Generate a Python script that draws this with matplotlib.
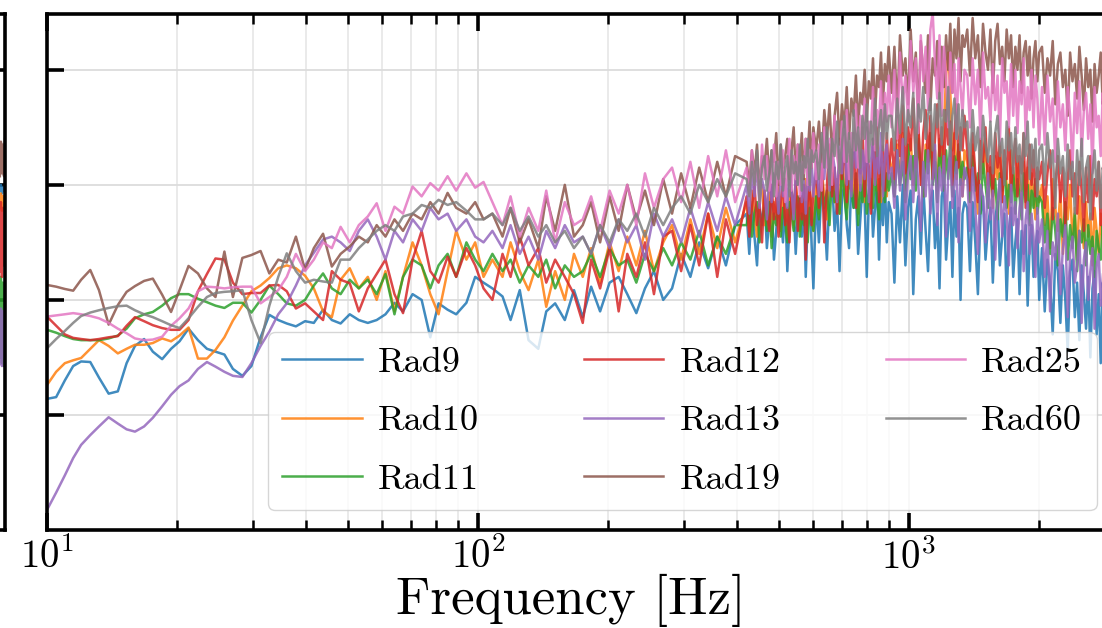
#!/usr/bin/env python3
"""
Radiator PSD overlay — spectra of the eight radiator channels on a log
frequency axis, shared level axis with the neighbouring panel.
"""

import matplotlib
matplotlib.use('Agg')
import matplotlib.pyplot as plt
from matplotlib.ticker import NullFormatter

plt.rcParams['font.family'] = 'serif'
plt.rcParams['font.serif'] = ['cmr10']
plt.rcParams['mathtext.fontset'] = 'cm'
plt.rcParams['axes.formatter.use_mathtext'] = True

# ════════════════════════════════════════════════════════════════════════
# Spectra (level in dB, arbitrary reference)
# ════════════════════════════════════════════════════════════════════════

freq = [
    10, 10.5, 11, 11.5, 12, 12.6, 13.2, 13.9, 14.6, 15.3,
    16, 16.8, 17.6, 18.5, 19.4, 20.3, 21.3, 22.4, 23.5, 24.6,
    25.8, 27, 28.4, 29.8, 31.3, 32.8, 34.4, 36, 37.8, 39.7,
    41.6, 43.7, 45.8, 48, 50.4, 52.9, 55.5, 58.2, 61, 64,
    67, 70.5, 74, 77.5, 81, 85, 89, 94, 98.5, 103,
    108, 114, 119, 125, 131, 138, 144, 151, 159, 167,
    175, 183, 192, 202, 212, 222, 233, 244, 256, 269,
    282, 296, 311, 326, 342, 359, 376, 395,
    # fine bins above 400 Hz
    420, 426, 432, 438, 444, 450, 456, 462, 468, 474, 480, 486, 492, 498, 504, 510,
    516, 522, 528, 534, 540, 546, 552, 558, 564, 570, 576, 582, 588, 594, 600,
    609, 618, 627, 636, 645, 654, 663, 672, 681, 690, 699, 708, 717, 726, 735, 744,
    753, 762, 771, 780, 789, 798, 807, 816, 825, 834, 843, 852, 861, 870, 879, 888, 897,
    911, 925, 939, 953, 967, 981, 995, 1009, 1023, 1037, 1051, 1065, 1079, 1093, 1107, 1121,
    1135, 1149, 1163, 1177, 1191, 1205, 1219, 1233, 1247, 1261, 1275, 1289, 1303, 1317, 1331, 1345,
    1365, 1385, 1405, 1425, 1445, 1465, 1485, 1505, 1525, 1545, 1565, 1585, 1605, 1625, 1645, 1665,
    1685, 1705, 1725, 1745, 1765, 1785, 1805, 1825, 1845, 1865, 1885, 1905, 1925, 1945, 1965, 1985, 2005,
    2035, 2065, 2095, 2125, 2155, 2185, 2215, 2245, 2275, 2305, 2335, 2365, 2395, 2425, 2455, 2485,
    2515, 2545, 2575, 2605, 2635, 2665, 2695, 2725, 2755, 2785, 2815, 2845, 2875, 2905, 2935,
]

rad9 = [
    22.8, 23.1, 26.0, 28.5, 29.3, 29.2, 26.5, 23.7, 24.1, 29.0,
    32.0, 33.2, 31.0, 29.7, 31.5, 32.8, 35.0, 33.0, 31.5, 31.0,
    30.5, 28.0, 26.8, 28.5, 33.5, 37.4, 36.5, 35.9, 35.4, 36.3,
    36.0, 38.3, 36.5, 35.9, 37.5, 36.5, 36.0, 36.5, 37.5, 39.5,
    38.0, 41.0, 40.0, 33.5, 39.4, 38.3, 37.5, 39.5, 44.0, 43.0,
    42.0, 40.6, 36.5, 41.7, 33.0, 31.5, 38.0, 39.4, 36.5, 41.7,
    37.0, 42.3, 38.0, 43.0, 44.0, 41.0, 37.7, 42.0, 45.0, 40.0,
    42.0, 48.0, 44.0, 50.0, 45.5, 51.0, 46.0, 53.0,
    55, 48, 57, 51, 46, 56, 53, 58, 49, 54, 57, 47, 52, 58, 55, 50,
    57, 45, 53, 59, 56, 48, 55, 58, 51, 57, 44, 54, 59, 50, 42,
    58, 50, 60, 55, 47, 59, 61, 52, 57, 45, 58, 60, 53, 49, 61, 56,
    59, 48, 54, 60, 57, 44, 58, 61, 51, 56, 60, 47, 59, 53, 61, 50, 57,
    55, 43, 58, 50, 60, 46, 56, 59, 41, 54, 58, 48, 60, 52, 45, 57,
    59, 49, 55, 42, 58, 60, 47, 53, 57, 44, 59, 51, 56, 40, 55, 57,
    56, 45, 57, 50, 41, 55, 58, 47, 53, 56, 43, 54, 57, 46, 51, 55,
    40, 52, 56, 44, 50, 54, 41, 52, 48, 53, 39, 50, 53, 44, 49, 52, 40,
    49, 38, 47, 43, 34, 48, 45, 36, 46, 40, 31, 45, 47, 37, 43, 33,
    46, 41, 35, 44, 30, 42, 45, 34, 41, 29, 43, 38, 32, 44, 36,
]

rad10 = [
    25.2, 27.5, 29.0, 29.5, 29.9, 31.5, 33.0, 32.0, 30.7, 31.5,
    32.2, 32.2, 32.5, 33.3, 32.8, 33.8, 35.2, 29.8, 29.8, 31.3,
    33.5, 36.4, 39.0, 41.5, 42.5, 43.8, 45.5, 46.0, 45.5, 44.2,
    42.0, 38.0, 37.0, 43.5, 45.5, 42.0, 44.0, 40.0, 45.0, 38.0,
    44.0, 50.0, 46.0, 41.0, 37.5, 45.0, 52.0, 47.0, 50.0, 44.0,
    47.0, 44.0, 50.0, 45.0, 41.7, 47.0, 38.8, 45.0, 40.0, 48.0,
    44.0, 49.0, 43.0, 50.0, 45.0, 51.0, 46.0, 52.0, 45.0, 50.0,
    53.0, 47.0, 54.0, 48.0, 55.0, 49.0, 56.0, 50.0,
    57, 52, 59, 55, 51, 58, 60, 53, 56, 59, 51, 57, 54, 60, 52, 58,
    55, 51, 59, 56, 53, 60, 57, 52, 58, 55, 61, 53, 59, 56, 52,
    60, 55, 63, 58, 54, 62, 65, 57, 61, 55, 64, 59, 56, 63, 66, 58,
    61, 55, 64, 60, 57, 65, 62, 56, 63, 66, 59, 61, 57, 64, 62, 58, 65,
    63, 58, 67, 61, 69, 59, 65, 68, 60, 66, 70, 62, 58, 67, 64, 69,
    61, 66, 59, 68, 63, 70, 79, 83, 76, 66, 69, 61, 67, 64, 58, 66,
    64, 57, 67, 60, 55, 66, 62, 68, 58, 63, 56, 65, 61, 67, 57, 64,
    60, 55, 66, 62, 58, 65, 61, 56, 64, 59, 63, 55, 62, 58, 54, 61, 57,
    60, 53, 58, 49, 61, 56, 52, 59, 48, 57, 54, 60, 50, 56, 47, 58,
    53, 49, 57, 51, 55, 46, 56, 52, 48, 55, 50, 45, 54, 49, 52,
]

rad11 = [
    34.8, 34.3, 33.7, 33.2, 33.0, 33.0, 33.0, 33.3, 33.8, 35.0,
    36.8, 37.5, 37.9, 39.0, 40.3, 41.0, 41.0, 40.2, 39.6, 39.0,
    38.6, 39.5, 39.5, 37.8, 40.0, 42.5, 41.0, 39.4, 39.0, 40.0,
    42.5, 44.6, 42.0, 41.0, 43.5, 42.0, 43.5, 41.0, 44.5, 37.5,
    44.0, 47.0, 46.0, 42.0, 46.0, 48.0, 44.0, 50.0, 47.0, 45.0,
    48.0, 45.0, 47.0, 43.0, 46.0, 44.0, 47.0, 42.0, 46.0, 44.0,
    45.0, 48.0, 44.0, 49.0, 46.0, 47.0, 43.0, 48.0, 45.0, 49.0,
    46.0, 50.0, 47.0, 52.0, 46.0, 51.0, 48.0, 53.0,
    53, 56, 51, 55, 57, 50, 54, 56, 52, 57, 49, 55, 53, 57, 51, 56,
    54, 50, 57, 55, 52, 56, 58, 51, 55, 53, 57, 50, 56, 54, 52,
    58, 54, 61, 56, 59, 53, 62, 57, 60, 55, 63, 58, 54, 61, 59, 56,
    62, 53, 60, 57, 63, 55, 59, 61, 56, 62, 58, 54, 63, 60, 57, 62, 59,
    62, 58, 66, 60, 64, 57, 67, 61, 65, 59, 68, 63, 58, 66, 62, 69,
    60, 64, 57, 67, 63, 59, 66, 61, 68, 58, 65, 62, 67, 60, 64, 61,
    63, 57, 65, 59, 62, 55, 64, 60, 56, 63, 58, 61, 54, 62, 59, 64,
    56, 60, 57, 63, 55, 61, 58, 54, 62, 57, 60, 53, 59, 56, 61, 55, 58,
    57, 50, 55, 48, 56, 52, 46, 54, 51, 57, 47, 53, 49, 55, 45, 52,
    50, 54, 46, 53, 48, 51, 44, 52, 49, 47, 53, 45, 50, 48, 51,
]

rad12 = [
    37.1, 35.5, 34.0, 33.4, 33.2, 33.0, 33.2, 33.5, 33.7, 35.5,
    37.0, 36.3, 35.6, 35.1, 34.8, 34.8, 36.5, 41.5, 44.5, 47.2,
    47.0, 43.0, 41.0, 41.2, 41.2, 42.5, 42.6, 41.5, 38.5, 39.4,
    38.0, 36.5, 45.0, 43.5, 42.9, 38.0, 42.0, 44.5, 47.0, 41.0,
    37.7, 47.0, 52.0, 45.0, 43.0, 47.5, 44.0, 49.0, 46.0, 42.0,
    40.0, 48.0, 44.0, 51.0, 46.0, 49.0, 43.0, 47.0, 44.0, 41.0,
    36.0, 47.0, 42.0, 49.0, 38.0, 48.0, 44.0, 50.0, 41.0, 51.0,
    52.0, 45.0, 53.0, 46.0, 55.0, 44.0, 54.0, 48.0,
    58, 51, 56, 60, 53, 57, 50, 59, 55, 52, 60, 54, 58, 51, 57, 61,
    53, 56, 50, 59, 55, 61, 52, 58, 54, 60, 47, 57, 61, 53, 59,
    62, 56, 65, 50, 60, 67, 58, 63, 55, 66, 61, 68, 57, 64, 59, 69,
    56, 65, 62, 70, 58, 66, 63, 55, 68, 61, 70, 57, 64, 67, 59, 69, 62,
    68, 61, 72, 65, 74, 62, 70, 66, 75, 63, 71, 60, 69, 73, 64, 72,
    61, 68, 74, 65, 70, 62, 73, 67, 71, 60, 69, 74, 63, 70, 66, 72,
    66, 59, 69, 62, 57, 68, 64, 70, 60, 65, 58, 69, 63, 67, 57, 66,
    61, 70, 59, 64, 68, 58, 65, 62, 69, 56, 64, 67, 60, 66, 58, 63, 61,
    64, 56, 62, 66, 54, 60, 65, 57, 63, 53, 61, 66, 58, 62, 55, 64,
    59, 52, 63, 57, 65, 54, 61, 58, 64, 53, 60, 62, 55, 63, 57,
]

rad13 = [
    3.5, 6.5, 9.5, 12.5, 14.8, 16.5, 18.0, 19.6, 18.5, 17.5,
    17.1, 18.0, 19.5, 21.5, 23.5, 25.0, 26.0, 28.0, 29.2, 28.4,
    27.5, 26.8, 26.6, 29.0, 32.0, 34.5, 37.5, 39.4, 42.5, 46.0,
    48.2, 50.5, 51.0, 50.0, 48.5, 52.0, 54.0, 51.0, 47.0, 52.0,
    50.0, 54.0, 52.0, 56.0, 54.0, 55.0, 52.0, 54.0, 51.0, 50.0,
    52.0, 49.0, 53.0, 48.0, 51.0, 47.0, 52.0, 49.0, 53.0, 50.0,
    51.0, 48.0, 53.0, 49.0, 54.0, 50.0, 53.0, 47.0, 55.0, 51.0,
    54.0, 50.0, 56.0, 51.0, 57.0, 52.0, 58.0, 53.0,
    60, 55, 62, 58, 64, 56, 61, 59, 54, 63, 57, 62, 60, 55, 64, 58,
    61, 56, 63, 59, 54, 62, 60, 65, 57, 61, 55, 63, 59, 64, 58,
    64, 58, 67, 61, 69, 59, 66, 63, 57, 68, 62, 70, 60, 65, 58, 69,
    63, 67, 59, 66, 61, 70, 57, 64, 68, 60, 66, 62, 69, 58, 65, 67, 61,
    63, 56, 66, 59, 68, 54, 62, 65, 57, 67, 60, 52, 64, 58, 66, 55,
    61, 67, 53, 63, 59, 65, 51, 62, 66, 56, 60, 64, 50, 61, 58, 63,
    61, 52, 63, 56, 48, 60, 58, 50, 62, 54, 59, 47, 57, 61, 51, 58,
    55, 46, 60, 53, 57, 49, 56, 59, 45, 54, 57, 48, 55, 51, 44, 56, 50,
    54, 44, 52, 38, 50, 47, 55, 41, 49, 53, 37, 48, 51, 43, 46, 52,
    36, 47, 50, 40, 45, 49, 35, 46, 48, 39, 44, 47, 34, 45, 42,
]

rad19 = [
    42.6, 42.3, 41.9, 41.6, 43.5, 45.2, 41.7, 35.7, 39.1, 41.4,
    42.4, 43.3, 43.7, 40.9, 37.9, 41.7, 45.9, 44.6, 42.0, 40.5,
    48.4, 40.5, 47.3, 47.8, 48.5, 44.6, 47.0, 46.5, 51.0, 45.2,
    49.0, 51.5, 45.8, 48.0, 49.3, 51.0, 50.0, 53.0, 51.0, 54.0,
    52.0, 55.0, 54.0, 57.0, 55.0, 58.6, 56.0, 55.0, 57.0, 54.0,
    55.0, 51.0, 56.0, 50.0, 54.0, 49.0, 58.0, 52.0, 60.0, 51.0,
    53.0, 57.0, 50.0, 58.0, 52.0, 60.0, 54.0, 59.0, 53.0, 61.0,
    55.0, 62.0, 56.0, 63.0, 57.0, 64.0, 58.0, 65.0,
    64, 60, 66, 62, 67, 59, 65, 63, 68, 61, 66, 64, 69, 60, 67, 63,
    65, 68, 61, 66, 70, 62, 67, 64, 69, 61, 68, 65, 71, 63, 70,
    66, 71, 64, 73, 68, 74, 65, 72, 76, 67, 74, 70, 77, 68, 75, 72,
    79, 70, 76, 74, 80, 71, 78, 75, 82, 72, 79, 77, 83, 74, 81, 78, 84,
    76, 84, 73, 86, 79, 82, 74, 87, 78, 83, 72, 85, 80, 76, 86, 73,
    82, 79, 85, 75, 84, 77, 86, 80, 88, 76, 87, 82, 89, 78, 86, 84,
    87, 79, 89, 82, 86, 77, 88, 83, 80, 87, 76, 85, 88, 81, 84, 78,
    87, 82, 86, 77, 84, 80, 86, 76, 83, 85, 79, 84, 75, 82, 85, 78, 83,
    84, 76, 82, 79, 85, 74, 81, 83, 77, 80, 72, 83, 78, 81, 75, 84,
    79, 73, 82, 77, 80, 71, 81, 76, 79, 83, 74, 80, 77, 72, 79,
]

rad25 = [
    37.1, 37.3, 37.5, 37.7, 37.5, 37.2, 36.8, 36.0, 35.0, 34.2,
    33.3, 33.0, 33.1, 33.6, 35.5, 36.8, 38.5, 41.5, 42.3, 42.2,
    42.0, 42.2, 42.3, 42.3, 39.4, 40.5, 41.7, 44.0, 48.0, 45.0,
    47.0, 50.0, 49.0, 52.7, 50.0, 53.0, 54.5, 56.8, 52.0, 56.2,
    55.0, 59.7, 58.0, 60.3, 59.0, 61.5, 59.0, 62.0, 59.5, 60.5,
    57.0, 53.0, 58.0, 51.0, 56.0, 52.0, 59.0, 50.0, 57.0, 53.0,
    54.0, 58.0, 52.0, 59.0, 55.0, 60.0, 53.0, 62.0, 56.0, 61.0,
    63.0, 57.0, 64.0, 56.0, 65.0, 58.0, 66.0, 57.0,
    63, 58, 66, 60, 64, 57, 67, 61, 65, 59, 62, 67, 58, 64, 60, 66,
    57, 63, 68, 59, 65, 61, 67, 58, 64, 62, 68, 60, 66, 63, 69,
    61, 67, 59, 70, 63, 68, 60, 72, 65, 62, 71, 64, 73, 61, 69, 66,
    74, 63, 72, 68, 75, 64, 71, 69, 77, 66, 73, 70, 78, 67, 76, 71, 79,
    70, 80, 68, 83, 74, 79, 71, 85, 76, 82, 69, 86, 78, 84, 73, 87,
    90, 81, 75, 86, 72, 84, 79, 70, 83, 76, 81, 68, 82, 77, 72, 80,
    79, 70, 82, 74, 80, 68, 83, 75, 77, 71, 81, 73, 79, 67, 82, 76,
    78, 70, 81, 72, 80, 69, 78, 74, 82, 68, 77, 73, 80, 70, 79, 75, 67,
    77, 67, 79, 71, 75, 64, 78, 70, 74, 66, 77, 72, 63, 76, 69, 78,
    65, 73, 76, 68, 74, 62, 77, 70, 72, 65, 76, 67, 73, 64, 75,
]

rad60 = [
    31.6, 33.2, 34.6, 36.0, 37.2, 37.8, 38.2, 38.6, 38.9, 39.0,
    38.2, 37.5, 37.0, 36.3, 35.6, 35.1, 36.8, 38.8, 40.5, 41.2,
    41.4, 41.5, 41.7, 36.5, 32.5, 39.0, 44.0, 48.1, 45.0, 43.0,
    43.5, 43.2, 43.0, 47.0, 47.0, 49.0, 50.5, 52.0, 53.0, 52.0,
    54.5, 55.0, 56.5, 56.0, 57.4, 56.5, 57.0, 55.5, 54.0, 54.0,
    55.0, 53.0, 56.0, 52.0, 54.5, 51.0, 53.0, 50.0, 52.0, 49.0,
    51.0, 48.0, 53.0, 50.0, 54.0, 52.0, 55.0, 51.0, 56.0, 53.0,
    56.0, 58.0, 55.0, 60.0, 57.0, 61.0, 58.0, 62.0,
    61, 58, 64, 60, 66, 57, 63, 65, 59, 62, 66, 58, 64, 61, 67, 59,
    63, 65, 58, 66, 62, 64, 60, 67, 59, 65, 63, 68, 60, 66, 64,
    66, 61, 69, 63, 70, 60, 68, 65, 71, 62, 67, 72, 64, 69, 61, 73,
    66, 70, 63, 72, 68, 74, 64, 71, 67, 75, 65, 70, 73, 66, 74, 68, 72,
    72, 66, 75, 69, 77, 67, 73, 70, 76, 65, 74, 71, 77, 68, 72, 75,
    66, 74, 70, 76, 67, 73, 71, 77, 65, 72, 75, 68, 74, 66, 73, 70,
    71, 63, 73, 66, 70, 61, 72, 67, 64, 71, 62, 69, 72, 65, 68, 60,
    71, 66, 69, 62, 70, 64, 67, 59, 69, 65, 71, 61, 67, 63, 68, 58, 66,
    67, 60, 69, 63, 66, 56, 68, 62, 65, 58, 67, 61, 64, 55, 66, 60,
    68, 57, 63, 65, 54, 62, 66, 59, 64, 56, 63, 61, 55, 62, 58,
]

labels = ['Rad9', 'Rad10', 'Rad11', 'Rad12', 'Rad13', 'Rad19', 'Rad25', 'Rad60']
series = [rad9, rad10, rad11, rad12, rad13, rad19, rad25, rad60]

# last few bins of the neighbouring panel (only its right edge is in view)
left_tail = {
    'Rad9': [59.0, 60.0, 58.5, 59.5, 59.0, 60.0],
    'Rad10': [56.0, 58.5, 55.5, 58.0, 56.0, 58.0],
    'Rad11': [30.0, 44.0, 29.0, 43.0, 28.5, 42.0],
    'Rad12': [45.0, 57.0, 44.0, 56.0, 46.0, 57.0],
    'Rad13': [29.0, 38.5, 28.5, 38.0, 30.0, 38.0],
    'Rad19': [61.5, 67.5, 62.0, 67.0, 61.5, 68.0],
}

assert all(len(s) == len(freq) for s in series), [len(s) for s in series]

# ════════════════════════════════════════════════════════════════════════
# Figure
# ════════════════════════════════════════════════════════════════════════

W, H = 1102, 628
fig = plt.figure(figsize=(W / 100, H / 100), dpi=100)

ax_bottom = (H - 530) / H
ax_height = 516 / H
decade_px = 431
ax_width_px = 2.7 * decade_px

ax = fig.add_axes([47 / W, ax_bottom, ax_width_px / W, ax_height])
ax_l = fig.add_axes([-0.5, ax_bottom, 0.5 + 5 / W, ax_height])

colors = plt.rcParams['axes.prop_cycle'].by_key()['color']

for lab, vals, c in zip(labels, series, colors):
    ax.plot(freq, vals, lw=1.8, alpha=0.85, color=c, label=lab)
    if lab in left_tail:
        ax_l.plot(freq[-6:], left_tail[lab], lw=1.8, alpha=0.85, color=c)

for a in (ax, ax_l):
    a.set_xscale('log')
    a.set_ylim(0, 89.7)
    a.set_yticks([20, 40, 60, 80])
    for s in a.spines.values():
        s.set_linewidth(2.6)
    a.tick_params(which='major', direction='in', length=12, width=2.6,
                  top=True, right=True, labelleft=False)
    a.tick_params(which='minor', direction='in', length=7, width=1.8,
                  top=True, right=True)

ax.set_xlim(10, 10 ** 3.7)
ax_l.set_xlim(10, 2935)
ax_l.set_xticks([])
ax_l.xaxis.set_minor_formatter(NullFormatter())
ax_l.tick_params(which='minor', bottom=False, top=False)

ax.xaxis.set_minor_formatter(NullFormatter())
ax.tick_params(axis='x', which='major', labelsize=28, pad=6)
ax.grid(True, which='major', color='#dcdcdc', lw=1.3)
ax.grid(True, which='minor', axis='x', color='#e4e4e4', lw=1.1)

ax.set_xlabel('Frequency [Hz]', fontsize=38)
ax.xaxis.set_label_coords((571 - 47) / ax_width_px, -0.085)

ax.legend(ncol=3, fontsize=26, loc='lower left',
          bbox_to_anchor=((268 - 47) / ax_width_px, 20 / 516),
          borderaxespad=0, handlelength=2.2, handletextpad=0.45,
          columnspacing=2.9, labelspacing=0.72)

fig.savefig('out.png', dpi=100)
